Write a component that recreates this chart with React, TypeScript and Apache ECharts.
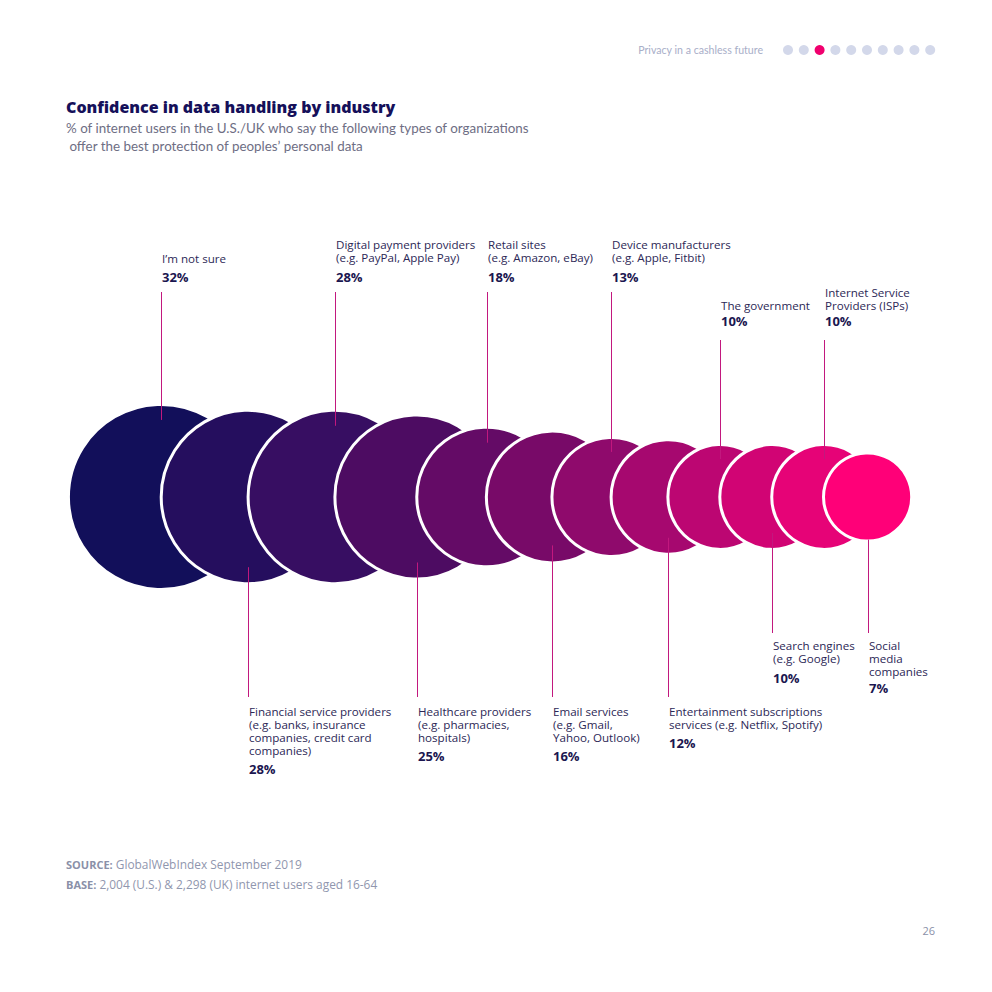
import React, { useEffect, useRef } from "react";
import * as echarts from "echarts";

// ---- data ----
const categories: string[][] = [
  ["I’m not sure"],
  ["Financial service providers", "(e.g. banks, insurance", "companies, credit card", "companies)"],
  ["Digital payment providers", "(e.g. PayPal, Apple Pay)"],
  ["Healthcare providers", "(e.g. pharmacies,", "hospitals)"],
  ["Retail sites", "(e.g. Amazon, eBay)"],
  ["Email services", "(e.g. Gmail,", "Yahoo, Outlook)"],
  ["Device manufacturers", "(e.g. Apple, Fitbit)"],
  ["Entertainment subscriptions", "services (e.g. Netflix, Spotify)"],
  ["The government"],
  ["Search engines", "(e.g. Google)"],
  ["Internet Service", "Providers (ISPs)"],
  ["Social", "media", "companies"],
];
const values: number[] = [32, 28, 28, 25, 18, 16, 13, 12, 10, 10, 10, 7];

// ---- layout / style (not data) ----
const side: ("top" | "bottom")[] = ["top", "bottom", "top", "bottom", "top", "bottom", "top", "bottom", "top", "bottom", "top", "bottom"];
const nameY: number[] = [258, 711, 244, 711, 244, 711, 244, 711, 305, 645, 292, 645];
const pctY: number[] = [277, 769, 277, 756, 277, 756, 277, 743, 321, 678, 321, 688];
const leaderY: number[] = [292, 697, 292, 697, 292, 697, 292, 697, 340, 633, 340, 633];
const leaderInset: number[] = [14, 15, 14, 15, 14, 16, 13, 15, 13, 15, 13, 0];
const colors: string[] = ["#120f5a", "#250e5e", "#370e62", "#4d0c62", "#640b66", "#780a68", "#8f0a6c", "#a6086f", "#bc0672", "#d10474", "#e60377", "#ff0078"];
const K = 16.1; // radius scale (px per sqrt(%))
const STEP = 1.02; // center spacing relative to the next circle's radius
const START_X = 161;
const CENTER_Y = 497;
const FONT = "'Open Sans', Lato, sans-serif";
const FONT2 = "Lato, 'Open Sans', sans-serif";

const radius = (v: number) => K * Math.sqrt(v);
const centers: number[] = [];
values.forEach((v, i) => {
  if (i === 0) centers.push(START_X);
  else centers.push(centers[i - 1] + radius(v) * STEP);
});

export default function App() {
  const ref = useRef<HTMLDivElement>(null);
  useEffect(() => {
    if (!ref.current) return;
    const chart = echarts.init(ref.current, undefined, { renderer: "svg" });
    const dots = Array.from({ length: 10 }, (_, i) => ({
      type: "circle",
      shape: { cx: 788 + i * 15.8, cy: 50, r: 5 },
      style: { fill: i === 2 ? "#f0006e" : "#d3d8ea" },
    }));
    const footRich = { b: { fontWeight: "bold", fontSize: 11, fill: "#8a90a8", fontFamily: FONT } };
    chart.setOption({
      animation: false,
      grid: { left: 0, right: 0, top: 0, bottom: 0 },
      xAxis: { type: "value", min: 0, max: 992, show: false },
      yAxis: { type: "value", min: 0, max: 992, inverse: true, show: false },
      graphic: [
        { type: "text", x: 763, y: 50, style: { text: "Privacy in a cashless future", fill: "#a8aec8", font: `10.6px ${FONT2}`, align: "right", verticalAlign: "middle" } },
        ...dots,
        { type: "text", x: 66, y: 107, style: { text: "Confidence in data handling by industry", fill: "#15105a", font: `800 16px ${FONT}`, verticalAlign: "middle" } },
        { type: "text", x: 66, y: 128, style: { text: "% of internet users in the U.S./UK who say the following types of organizations", fill: "#6e6e84", font: `13.4px ${FONT2}`, verticalAlign: "middle" } },
        { type: "text", x: 66, y: 146, style: { text: " offer the best protection of peoples’ personal data", fill: "#6e6e84", font: `13.4px ${FONT2}`, verticalAlign: "middle" } },
        {
          type: "text", x: 66, y: 864,
          style: { text: "{b|SOURCE:} GlobalWebIndex September 2019", fill: "#9096ae", font: `11.9px ${FONT}`, verticalAlign: "middle", rich: footRich },
        },
        {
          type: "text", x: 66, y: 884,
          style: { text: "{b|BASE:} 2,004 (U.S.) & 2,298 (UK) internet users aged 16-64", fill: "#9096ae", font: `11.9px ${FONT}`, verticalAlign: "middle", rich: footRich },
        },
        { type: "text", x: 935, y: 930, style: { text: "26", fill: "#8a90a8", font: `11px ${FONT}`, align: "right", verticalAlign: "middle" } },
      ],
      series: [
        {
          type: "scatter",
          z: 2,
          data: values.map((v, i) => ({
            value: [centers[i], CENTER_Y, v],
            itemStyle: { color: colors[i] },
          })),
          symbol: "circle",
          symbolSize: (d: number[]) => 2 * radius(d[2]) + 3,
          itemStyle: { borderColor: "#ffffff", borderWidth: 3, opacity: 1 },
          emphasis: { disabled: true },
        },
        {
          type: "custom",
          z: 5,
          data: values.map((v, i) => [centers[i], CENTER_Y, v, i]),
          renderItem: (params: any, api: any) => {
            const i = api.value(3) as number;
            const v = api.value(2) as number;
            const c = api.coord([api.value(0), api.value(1)]);
            const r = radius(v);
            const x = Math.round(c[0]) + 0.5;
            const outer = api.coord([api.value(0), leaderY[i]])[1];
            const inner = side[i] === "top" ? c[1] - r + leaderInset[i] : c[1] + r - leaderInset[i];
            const children: any[] = [
              { type: "line", shape: { x1: x, y1: outer, x2: x, y2: inner }, style: { stroke: "#c2187e", lineWidth: 1 } },
            ];
            const ny = api.coord([api.value(0), nameY[i]])[1];
            categories[i].forEach((t, k) => {
              children.push({
                type: "text",
                style: { text: t, x: x + 0.5, y: ny + k * 13.3, fill: "#2c2856", font: `11.6px ${FONT}`, align: "left", verticalAlign: "middle" },
              });
            });
            const py = api.coord([api.value(0), pctY[i]])[1];
            children.push({
              type: "text",
              style: { text: `${v}%`, x: x + 0.5, y: py, fill: "#1b1650", font: `bold 13px ${FONT}`, align: "left", verticalAlign: "middle" },
            });
            return { type: "group", children };
          },
        },
      ],
    });
    return () => chart.dispose();
  }, []);
  return <div ref={ref} style={{ position: "absolute", left: 0, top: 0, width: 992, height: 992 }} />;
}
